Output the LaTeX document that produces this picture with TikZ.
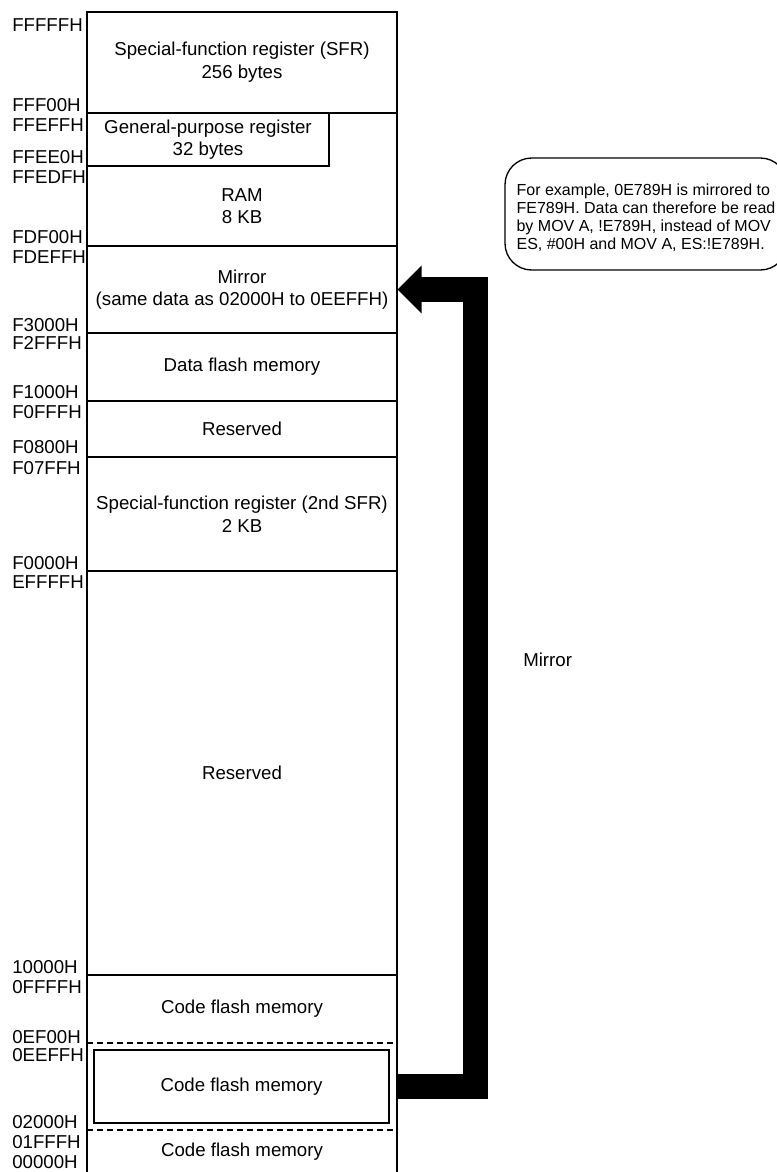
\documentclass[tikz,border=0pt]{standalone}
\usepackage{fontspec}
\setmainfont{Liberation Sans}
\usetikzlibrary{arrows.meta,fit}

\tikzset{
  region/.style={draw, line width=1pt, inner sep=0pt},
  blank/.style={inner sep=0pt},
  txt/.style={inner sep=0pt, anchor=center},
  twoline/.style={txt, align=center},
  addr/.style={anchor=west, inner sep=0pt},
  sepline/.style={line width=1.5pt, dash pattern=on 5pt off 2.5pt},
  note/.style={draw, line width=1pt, rounded corners=20pt, inner sep=0pt},
  notetxt/.style={align=left, anchor=west, inner sep=0pt,
    font=\fontsize{12}{13.5}\selectfont},
  mirrorarrow/.style={line width=18.75pt, line join=miter,
    -{Triangle[length=18pt,width=35pt]}},
}

\begin{document}
\begin{tikzpicture}[x=0.75pt, y=-0.75pt, font=\fontsize{14}{17}\selectfont]
  \useasboundingbox (0,0) rectangle (777,1172);
  % memory column
  \draw[line width=1pt] (87,12) rectangle (397,1174);
  \node[region, fit={(87,12) (397,113)}] (sfr) {};
  \node[region, fit={(87,113) (329,166)}] (gpr) {};
  \node[blank, fit={(87,166) (397,246)}] (ram) {};
  \node[region, fit={(87,246) (397,333)}] (mirror) {};
  \node[region, fit={(87,333) (397,401)}] (dflash) {};
  \node[region, fit={(87,401) (397,457)}] (rsvA) {};
  \node[region, fit={(87,457) (397,571)}] (sfrB) {};
  \node[region, fit={(87,571) (397,975)}] (rsvB) {};
  % code flash, split by dashed lines
  \node[blank, fit={(87,975) (397,1043)}] (cfhi) {};
  \node[blank, fit={(87,1043) (397,1130)}] (cfmid) {};
  \node[blank, fit={(87,1130) (397,1174)}] (cflo) {};
  \draw[sepline] (cfhi.south west) -- (cfhi.south east);
  \draw[sepline] (cfmid.south west) -- (cfmid.south east);
  \node[region, fit={(94,1050) (389,1123)}] (cfmir) {};

  % region texts
  \node[twoline] (sfrtxt) at (sfr.center) {Special-function register (SFR)\\256 bytes};
  \node[twoline] (gprtxt) at (gpr.center) {General-purpose register\\32 bytes};
  \node[twoline] (ramtxt) at (ram.center) {RAM\\8 KB};
  \node[twoline] (mirtxt) at (mirror.center) {Mirror\\(same data as 02000H to 0EEFFH)};
  \node[txt] (dftxt) at (dflash.center) {Data flash memory};
  \node[txt] (rsvAtxt) at (rsvA.center) {Reserved};
  \node[twoline] (sfrBtxt) at (sfrB.center) {Special-function register (2nd SFR)\\2 KB};
  \node[txt] (rsvBtxt) at (rsvB.center) {Reserved};
  \node[txt] (cfhitxt) at (cfhi.center) {Code flash memory};
  \node[txt] (cfmirtxt) at (cfmir.center) {Code flash memory};
  \node[txt] (cflotxt) at (cflo.center) {Code flash memory};

  % addresses
  \foreach \y/\a in {25/FFFFFH, 105/FFF00H, 125/FFEFFH, 157/FFEE0H, 177/FFEDFH,
      237/FDF00H, 257/FDEFFH, 325/F3000H, 343/F2FFFH, 392/F1000H, 412/F0FFFH,
      447/F0800H, 468/F07FFH, 563/F0000H, 582/EFFFFH, 967/10000H, 987/0FFFFH,
      1037/0EF00H, 1055/0EEFFH, 1122/02000H, 1142/01FFFH, 1162/00000H}
    \node[addr] (a\a) at (12,\y) {\a};

  % mirror arrow
  \draw[mirrorarrow] (cfmid.east) -- ++(78.5,0) |- (mirror.east);
  \node[anchor=west, inner sep=0pt] (mirlbl) at (523,660) {Mirror};

  % note
  \node[note, fit={(505,158) (787,270)}] (note) {};
  \node[notetxt] (notetxt) at ([xshift=9pt, yshift=-3pt]note.west)
    {For example, 0E789H is mirrored to\\
     FE789H. Data can therefore be read\\
     by MOV A, !E789H, instead of MOV\\
     ES, \#00H and MOV A, ES:!E789H.};
\end{tikzpicture}
\end{document}
